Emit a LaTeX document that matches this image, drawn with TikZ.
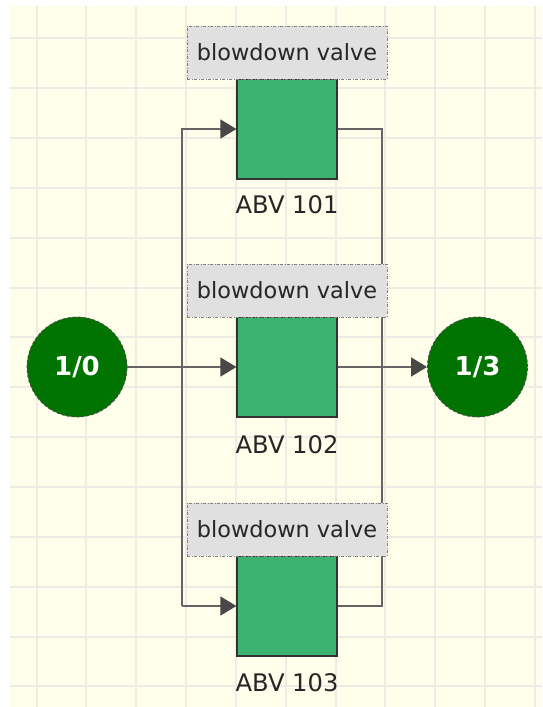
\documentclass[tikz,border=0pt]{standalone}
\usepackage{fontspec}
\setmainfont{DejaVu Sans}
\usetikzlibrary{arrows.meta}
\definecolor{bgyel}{RGB}{254,254,234}
\definecolor{gridc}{RGB}{236,236,228}
\definecolor{valveg}{RGB}{60,179,113}
\definecolor{termg}{RGB}{0,115,0}
\definecolor{wirec}{RGB}{100,100,100}
\definecolor{tipc}{RGB}{72,72,72}
\definecolor{lblfill}{RGB}{224,224,224}
\pgfdeclarelayer{back}
\pgfdeclarelayer{bg}
\pgfsetlayers{back,bg,main}
\begin{document}
\begin{tikzpicture}[x=1pt,y=-1pt,
 valve/.style={draw=black!80,line width=1.2pt,fill=valveg,minimum width=100pt,minimum height=100pt,inner sep=0pt},
 lbl/.style={draw=gray,dash pattern=on 3pt off 1.5pt on 1pt off 1.5pt,line width=0.8pt,fill=lblfill,minimum width=200pt,minimum height=53pt,inner sep=0pt,font=\fontsize{22.4}{26}\selectfont,text=black!85},
 tag/.style={font=\fontsize{24.2}{28}\selectfont,text=black!85},
 term/.style={circle,draw=black!70,densely dashed,line width=0.8pt,fill=termg,minimum size=100pt,inner sep=0pt,text=white,font=\bfseries\fontsize{26}{30}\selectfont},
 wire/.style={draw=wirec,line width=1.4pt},
 flow/.style={wire,-{Triangle[length=16pt,width=19pt,fill=tipc,color=tipc]}},
 gridline/.style={draw=gridc,line width=2pt}]
\useasboundingbox (0,0) rectangle (542,707);
\begin{pgfonlayer}{back}
\fill[white] (0,0) rectangle (542,707);
\fill[bgyel] (10,6) rectangle (542,707);
\foreach \k in {0,...,10} \draw[gridline] ({36.5+49.85*\k},6) -- ({36.5+49.85*\k},707);
\foreach \k in {0,...,13} \draw[gridline] (10,{38.3+49.85*\k}) -- (542,{38.3+49.85*\k});
\end{pgfonlayer}

\node[valve] (v1) at (287,129) {};
\node[lbl] (l1) at (287,52.5) {blowdown valve};
\node[tag] (t1) at (287,205) {ABV 101};

\node[valve] (v2) at (287,367) {};
\node[lbl] (l2) at (287,290.5) {blowdown valve};
\node[tag] (t2) at (287,445) {ABV 102};

\node[valve] (v3) at (287,606) {};
\node[lbl] (l3) at (287,529.5) {blowdown valve};
\node[tag] (t3) at (287,683) {ABV 103};

\node[term] (c0) at (77,367) {1/0};
\node[term] (c3) at (477.5,367) {1/3};

\coordinate (lb) at (182,606);
\coordinate (rb) at (382,367);
\begin{pgfonlayer}{bg}
\draw[flow] (lb) |- (v1.west);
\draw[flow] (lb) -- (v3.west);
\draw[wire] (v1.east) -| (rb) |- (v3.east);
\draw[flow] (c0) -- (v2.west);
\draw[flow] (v2.east) -- (c3);
\end{pgfonlayer}
\end{tikzpicture}
\end{document}
